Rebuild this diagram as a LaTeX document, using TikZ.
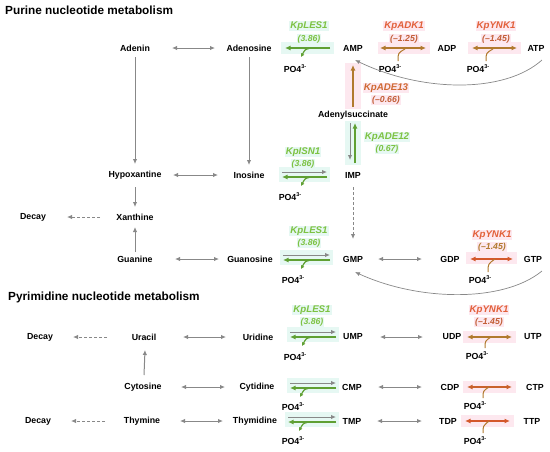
\documentclass[tikz,border=0pt]{standalone}
\usepackage{fontspec}
\setmainfont{Liberation Sans}
\usetikzlibrary{arrows.meta,calc}
\definecolor{gr}{HTML}{888888}
\definecolor{glab}{HTML}{7DC242}
\definecolor{garr}{HTML}{5FA033}
\definecolor{rlab}{HTML}{E2603A}
\definecolor{rnum}{HTML}{C25E36}
\definecolor{albl}{HTML}{CF6A33}
\definecolor{brn}{HTML}{B17A2E}
\definecolor{oarr}{HTML}{D4582B}
\definecolor{hlc}{HTML}{E6F8F3}
\definecolor{hlp}{HTML}{FDE8EF}
\begin{document}
\begin{tikzpicture}[x=1pt,y=-1pt,
  nd/.style={font=\bfseries\fontsize{8.8}{10}\selectfont, inner sep=0pt},
  ttl/.style={font=\bfseries\fontsize{11.8}{14}\selectfont, inner sep=0pt, anchor=west},
  glbl/.style={font=\bfseries\itshape\fontsize{9.7}{11}\selectfont, text=glab, fill=hlc, inner sep=1pt},
  gnum/.style={font=\bfseries\itshape\fontsize{8.7}{10}\selectfont, text=glab, fill=hlc, inner sep=1pt},
  rlbl/.style={font=\bfseries\itshape\fontsize{9.7}{11}\selectfont, text=rlab, fill=hlp, inner sep=1pt},
  rnm/.style={font=\bfseries\itshape\fontsize{8.7}{10}\selectfont, text=rnum, fill=hlp, inner sep=1pt},
  ga/.style={draw=gr, line width=1pt, -{Latex[length=5pt,width=4.5pt]}},
  gda/.style={draw=gr, line width=1pt, {Latex[length=5pt,width=4.5pt]}-{Latex[length=5pt,width=4.5pt]}},
  gdsh/.style={ga, dash pattern=on 3pt off 2pt},
  gcurve/.style={draw=gr, line width=0.7pt, -{Latex[length=5pt,width=4pt]}},
  gna/.style={draw=garr, line width=1.4pt, -{Latex[length=5.5pt,width=5pt]}},
  gbr/.style={draw=garr, line width=1.2pt, -{Latex[length=3.5pt,width=4pt]}},
  kda/.style={draw=#1, line width=1.4pt, {Latex[length=5.5pt,width=5pt]}-{Latex[length=5.5pt,width=5pt]}},
  kua/.style={draw=#1, line width=1.4pt, -{Latex[length=5.5pt,width=5pt]}},
  kbr/.style={draw=#1, line width=1pt},
  po/.style={nd}
]
\useasboundingbox (0,0) rectangle (550,451);

% ---------- highlight bands ----------
\fill[hlc] (281,42) rectangle (334,54);
\fill[hlp] (378,42) rectangle (430,54);
\fill[hlp] (468,42) rectangle (521,54);
\fill[hlp] (345,63) rectangle (361,109);
\fill[hlc] (345,121) rectangle (361,165);
\fill[hlc] (279,167) rectangle (330,182);
\fill[hlc] (280,250) rectangle (333,265);
\fill[hlp] (466,252) rectangle (517,264);
\fill[hlc] (287,327) rectangle (339,342);
\fill[hlp] (463,331) rectangle (516,343);
\fill[hlc] (287,378) rectangle (339,393);
\fill[hlp] (463,381) rectangle (516,393);
\fill[hlc] (285,412) rectangle (339,427);
\fill[hlp] (461,415) rectangle (514,427);

% ---------- titles ----------
\node[ttl] (t1) at (5,10) {Purine nucleotide metabolism};
\node[ttl] (t2) at (8,297) {Pyrimidine nucleotide metabolism};

% ---------- purine nodes ----------
\node[nd] (adenin) at (135,48) {Adenin};
\node[nd] (adenosine) at (249,48) {Adenosine};
\node[nd] (amp) at (353,48) {AMP};
\node[nd] (adp) at (447,48) {ADP};
\node[nd] (atp) at (536,48) {ATP};
\node[nd] (adsucc) at (353,115) {Adenylsuccinate};
\node[nd] (hypo) at (135,175) {Hypoxantine};
\node[nd] (inosine) at (249,175) {Inosine};
\node[nd] (imp) at (353,175) {IMP};
\node[nd] (decay1) at (33,217) {Decay};
\node[nd] (xanth) at (135,217) {Xanthine};
\node[nd] (guanine) at (135,259) {Guanine};
\node[nd] (guanosine) at (250,259) {Guanosine};
\node[nd] (gmp) at (353,259) {GMP};
\node[nd] (gdp) at (450,259) {GDP};
\node[nd] (gtp) at (533,259) {GTP};

% ---------- pyrimidine nodes ----------
\node[nd] (decay2) at (40,337) {Decay};
\node[nd] (uracil) at (144,337) {Uracil};
\node[nd] (uridine) at (258,337) {Uridine};
\node[nd] (ump) at (353,337) {UMP};
\node[nd] (udp) at (452,337) {UDP};
\node[nd] (utp) at (533,337) {UTP};
\node[nd] (cytosine) at (143,387) {Cytosine};
\node[nd] (cytidine) at (257,387) {Cytidine};
\node[nd] (cmp) at (352,387) {CMP};
\node[nd] (cdp) at (450,387) {CDP};
\node[nd] (ctp) at (535,387) {CTP};
\node[nd] (decay3) at (38,421) {Decay};
\node[nd] (thymine) at (142,421) {Thymine};
\node[nd] (thymidine) at (255,421) {Thymidine};
\node[nd] (tmp) at (352,421) {TMP};
\node[nd] (tdp) at (448,421) {TDP};
\node[nd] (ttp) at (532,421) {TTP};

% ---------- phosphate nodes ----------
\newcommand{\phos}{PO4\raisebox{4pt}{\fontsize{5.5}{6}\selectfont 3-}}
\node[po] (po1) at (295,69) {\phos};
\node[po] (po2) at (390,69) {\phos};
\node[po] (po3) at (478,69) {\phos};
\node[po] (po4) at (290,197) {\phos};
\node[po] (po5) at (293,280) {\phos};
\node[po] (po6) at (480,280) {\phos};
\node[po] (po7) at (295,357) {\phos};
\node[po] (po8) at (477,356) {\phos};
\node[po] (po9) at (293,407) {\phos};
\node[po] (po10) at (475,406) {\phos};
\node[po] (po11) at (293,441) {\phos};
\node[po] (po12) at (475,441) {\phos};

% ---------- enzyme labels ----------
\node[glbl] (les1a) at (309,26) {KpLES1};
\node[gnum] (les1an) at (309,39) {(3.86)};
\node[rlbl] (adk1) at (404,26) {KpADK1};
\node[rnm] (adk1n) at (404,39) {(–1.25)};
\node[rlbl] (ynk1a) at (496,26) {KpYNK1};
\node[rnm] (ynk1an) at (496,39) {(–1.45)};
\node[rlbl, text=albl] (ade13) at (386,88) {KpADE13};
\node[rnm] (ade13n) at (386,100) {(–0.66)};
\node[glbl] (ade12) at (387,137) {KpADE12};
\node[gnum] (ade12n) at (387,149) {(0.67)};
\node[glbl] (isn1) at (303,152) {KpISN1};
\node[gnum] (isn1n) at (303,164) {(3.86)};
\node[glbl] (les1b) at (309,231) {KpLES1};
\node[gnum] (les1bn) at (309,243) {(3.86)};
\node[rlbl] (ynk1b) at (492,235) {KpYNK1};
\node[rnm, text=brn] (ynk1bn) at (492,247) {(–1.45)};
\node[glbl] (les1c) at (312,310) {KpLES1};
\node[gnum] (les1cn) at (312,322) {(3.86)};
\node[rlbl] (ynk1c) at (489,310) {KpYNK1};
\node[rnm] (ynk1cn) at (489,322) {(–1.45)};

% ---------- purine connectors ----------
\draw[gda] ($(adenin)+(37,0)$) -- ($(adenosine)+(-34,0)$);
\draw[gna] ($(amp)+(-23,0)$) -- ($(adenosine)+(36,0)$);
\draw[gbr] ($(amp)+(-44,0.5)$) .. controls ($(amp)+(-48,1.5)$) .. ($(amp)+(-52,9)$);
\draw[kda=brn] ($(amp)+(27,0)$) -- ($(adp)+(-21,0)$);
\draw[kbr=brn] ($(po2)+(8,-8)$) .. controls ($(po2)+(8,-16)$) .. ($(po2)+(15,-20)$);
\draw[kda=brn] ($(adp)+(25,0)$) -- ($(atp)+(-19,0)$);
\draw[kbr=brn] ($(po3)+(8,-8)$) .. controls ($(po3)+(8,-16)$) .. ($(po3)+(15,-20)$);
\draw[gcurve] ($(atp)+(6,12)$) .. controls ($(atp)+(-32,46)$) and ($(amp)+(68,44)$) .. ($(amp)+(2,12)$);
\draw[kua=brn] ($(adsucc)+(0,-8)$) -- ($(amp)+(0,17)$);
\draw[gna] ($(imp)+(2,-12)$) -- ($(adsucc)+(2,8)$);
\draw[ga] ($(adsucc)+(-3,8)$) -- ($(imp)+(-3,-15)$);
\draw[ga] ($(adenin)+(0,9)$) -- ($(hypo)+(0,-11)$);
\draw[ga] ($(adenosine)+(0,9)$) -- ($(inosine)+(0,-10)$);
\draw[gda] ($(hypo)+(38,0)$) -- ($(inosine)+(-31,0)$);
\draw[ga] ($(inosine)+(33,-3)$) -- ($(imp)+(-26,-3)$);
\draw[gna] ($(imp)+(-26,2)$) -- ($(inosine)+(33,2)$);
\draw[gbr] ($(imp)+(-44,2.5)$) .. controls ($(imp)+(-48,3.5)$) .. ($(imp)+(-52,11)$);
\draw[ga] ($(hypo)+(0,12)$) -- ($(xanth)+(0,-10)$);
\draw[ga] ($(guanine)+(0,-7)$) -- ($(xanth)+(0,10)$);
\draw[gdsh] ($(xanth)+(-35,0)$) -- ($(decay1)+(34,0)$);
\draw[gdsh] ($(imp)+(0,12)$) -- ($(gmp)+(0,-20)$);
\draw[gda] ($(guanine)+(40,0)$) -- ($(guanosine)+(-31,0)$);
\draw[ga] ($(guanosine)+(33,-4)$) -- ($(gmp)+(-23,-4)$);
\draw[gna] ($(gmp)+(-23,1)$) -- ($(guanosine)+(33,1)$);
\draw[gbr] ($(gmp)+(-44,1.5)$) .. controls ($(gmp)+(-48,2.5)$) .. ($(gmp)+(-52,10)$);
\draw[gda] ($(gmp)+(25,0)$) -- ($(gdp)+(-28,0)$);
\draw[kda=oarr] ($(gdp)+(20,0)$) -- ($(gtp)+(-20,0)$);
\draw[kbr=brn] ($(po6)+(8,-8)$) .. controls ($(po6)+(8,-16)$) .. ($(po6)+(15,-21)$);
\draw[gcurve] ($(gtp)+(9,12)$) .. controls ($(gtp)+(-30,44)$) and ($(gmp)+(65,42)$) .. ($(gmp)+(2,13)$);

% ---------- pyrimidine connectors ----------
\draw[gdsh] ($(uracil)+(-37,0)$) -- ($(decay2)+(33,0)$);
\draw[gda] ($(uracil)+(39,0)$) -- ($(uridine)+(-32,0)$);
\draw[ga] ($(cytosine)+(1,-12)$) -- ($(uracil)+(1,13)$);
\draw[gda] ($(cytosine)+(38,0)$) -- ($(cytidine)+(-32,0)$);
\draw[gdsh] ($(thymine)+(-37,0)$) -- ($(decay3)+(33,0)$);
\draw[gda] ($(thymine)+(38,0)$) -- ($(thymidine)+(-32,0)$);

\draw[ga] ($(uridine)+(32,-5)$) -- ($(ump)+(-17,-5)$);
\draw[gna] ($(ump)+(-17,0)$) -- ($(uridine)+(32,0)$);
\draw[gbr] ($(ump)+(-43,0.5)$) .. controls ($(ump)+(-47,1.5)$) .. ($(ump)+(-51,9)$);
\draw[gda] ($(ump)+(27,0)$) -- ($(udp)+(-29,0)$);
\draw[kda=brn] ($(udp)+(15,0)$) -- ($(utp)+(-21,0)$);
\draw[kbr=brn] ($(po8)+(8,-8)$) .. controls ($(po8)+(8,-15)$) .. ($(po8)+(14,-19)$);

\draw[ga] ($(cytidine)+(33,-4)$) -- ($(cmp)+(-16,-4)$);
\draw[gna] ($(cmp)+(-16,1)$) -- ($(cytidine)+(33,1)$);
\draw[gbr] ($(cmp)+(-44,1.5)$) .. controls ($(cmp)+(-48,2.5)$) .. ($(cmp)+(-52,10)$);
\draw[gda] ($(cmp)+(26,0)$) -- ($(cdp)+(-28,0)$);
\draw[kda=oarr!70!brn] ($(cdp)+(17,0)$) -- ($(ctp)+(-23,0)$);
\draw[kbr=brn] ($(po10)+(8,-8)$) .. controls ($(po10)+(8,-15)$) .. ($(po10)+(14,-19)$);

\draw[ga] ($(thymidine)+(33,-4)$) -- ($(tmp)+(-16,-4)$);
\draw[gna] ($(tmp)+(-16,1)$) -- ($(thymidine)+(33,1)$);
\draw[gbr] ($(tmp)+(-45,1.5)$) .. controls ($(tmp)+(-49,2.5)$) .. ($(tmp)+(-53,10)$);
\draw[gda] ($(tmp)+(25,0)$) -- ($(tdp)+(-26,0)$);
\draw[kda=oarr] ($(tdp)+(17,0)$) -- ($(ttp)+(-22,0)$);
\draw[kbr=brn] ($(po12)+(8,-8)$) .. controls ($(po12)+(8,-15)$) .. ($(po12)+(14,-20)$);
\end{tikzpicture}
\end{document}
